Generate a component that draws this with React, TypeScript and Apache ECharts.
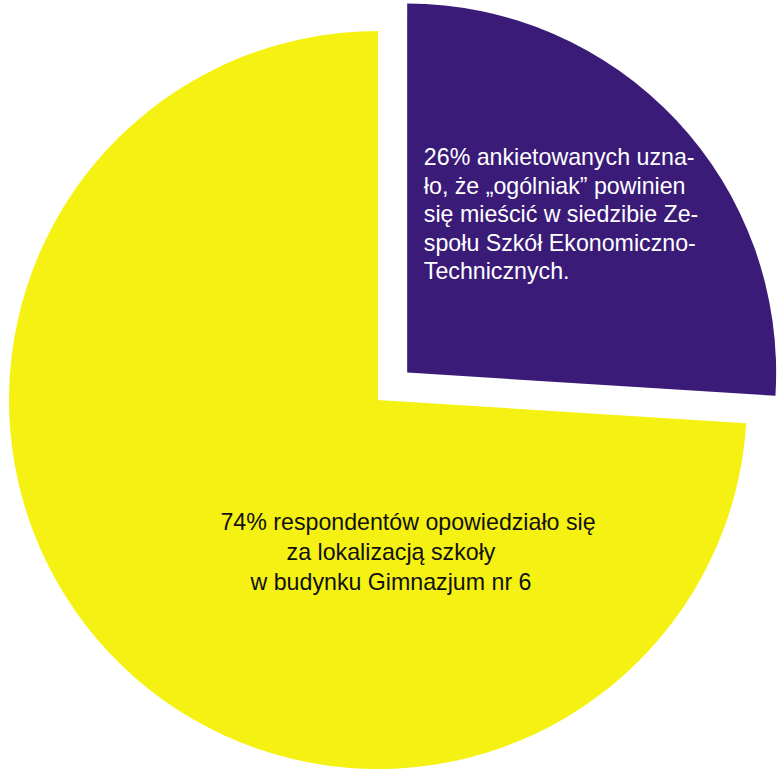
import React, { useEffect, useRef } from "react";
import * as echarts from "echarts";

const categories = ["Zespół Szkół Ekonomiczno-Techniczych", "Gimnazjum nr 6"];
const values = [26, 74];
const colors = ["#3A1B78", "#F5F213"];
const purpleLines = [
  "26% ankietowanych uzna-",
  "ło, że „ogólniak” powinien",
  "się mieścić w siedzibie Ze-",
  "społu Szkół Ekonomiczno-",
  "Technicznych.",
];
const yellowLines = [
  "74% respondentów opowiedziało się",
  "za lokalizacją szkoły",
  "w budynku Gimnazjum nr 6",
];

const FONT = "Liberation Sans, Arial, sans-serif";
const FS = 23.2;
const PURPLE_BOX = 300;

export default function App() {
  const ref = useRef<HTMLDivElement>(null);
  useEffect(() => {
    if (!ref.current) return;
    const chart = echarts.init(ref.current, null, { renderer: "svg" });
    const labelTexts = [
      purpleLines.map((l) => `{l|${l}}`).join("\n"),
      yellowLines.map((l, i) => `{${i === 0 ? "a" : "b"}|${l}}`).join("\n"),
    ];
    const richs = [
      {
        l: {
          fontSize: FS,
          lineHeight: 28.5,
          color: "#ffffff",
          fontFamily: FONT,
          width: PURPLE_BOX,
          align: "left",
        },
      },
      {
        a: { fontSize: FS, lineHeight: 30, color: "#111111", fontFamily: FONT },
        b: {
          fontSize: FS,
          lineHeight: 30,
          color: "#111111",
          fontFamily: FONT,
          padding: [0, 34, 0, 0],
        },
      },
    ];
    chart.setOption({
      animation: false,
      backgroundColor: "#ffffff",
      series: [
        {
          type: "pie",
          center: [378, 400],
          radius: 369,
          startAngle: 90,
          clockwise: true,
          selectedMode: "single",
          selectedOffset: 40,
          silent: true,
          emphasis: { disabled: true },
          labelLine: { show: false },
          labelLayout: (params: any) =>
            params.dataIndex === 1
              ? { x: 408, y: 552, align: "center", verticalAlign: "middle" }
              : {},
          data: categories.map((name, i) => ({
            name,
            value: values[i],
            selected: i === 0,
            itemStyle: { color: colors[i] },
            label: {
              show: true,
              position: "inside",
              formatter: labelTexts[i],
              fontFamily: FONT,
              fontSize: FS,
              align: "center",
              padding: i === 0 ? [0, 0, 60, 60] : 0,
              rich: richs[i],
            },
          })),
        },
      ],
    });
    return () => chart.dispose();
  }, []);
  return (
    <div
      ref={ref}
      style={{ position: "absolute", left: 0, top: 0, width: 777, height: 769 }}
    />
  );
}
